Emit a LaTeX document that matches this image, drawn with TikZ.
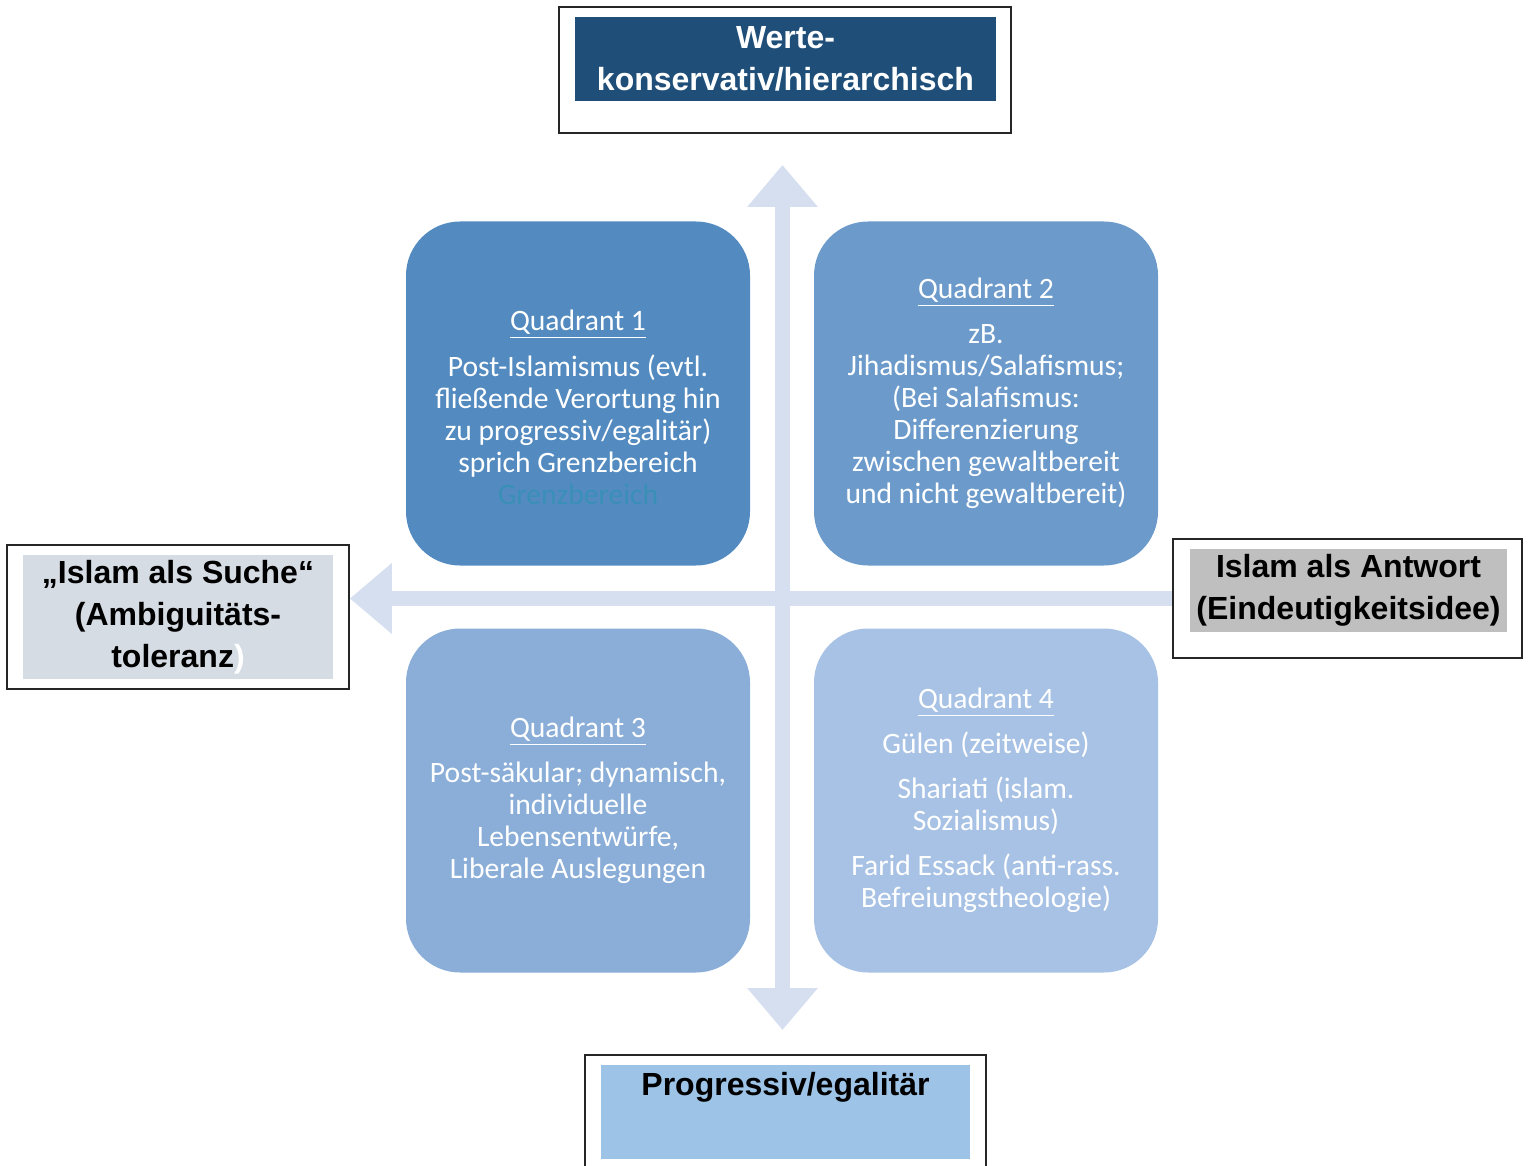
\documentclass[tikz,border=0pt]{standalone}
\usepackage{fontspec}
\setmainfont{Carlito}
\setsansfont{Liberation Sans}
\usetikzlibrary{arrows.meta}
\definecolor{topblue}{HTML}{1F4E79}
\definecolor{quadA}{HTML}{538BC0}
\definecolor{quadB}{HTML}{6C9BCB}
\definecolor{quadC}{HTML}{8AAED8}
\definecolor{quadD}{HTML}{A7C2E4}
\definecolor{axisblue}{HTML}{D5DFEF}
\definecolor{suchegray}{HTML}{D6DCE4}
\definecolor{antwortgray}{HTML}{BFBFBF}
\definecolor{progblue}{HTML}{9DC3E6}
\definecolor{faintteal}{HTML}{3A8FB7}
\begin{document}
\begin{tikzpicture}[x=0.5pt, y=-0.5pt]
\tikzstyle{quad}=[rectangle, rounded corners=27pt, minimum width=172pt, minimum height=172pt, inner sep=0pt]
\tikzstyle{quadtext}=[text=white, align=center, inner sep=0pt, font=\fontsize{14.8}{16}\selectfont]
\tikzstyle{frame}=[draw=black!85, line width=0.8pt, fill=white, inner sep=0pt]
\tikzstyle{tag}=[inner sep=0pt, align=center, font=\sffamily\bfseries\fontsize{16}{21}\selectfont]
\tikzstyle{axis}=[draw=axisblue, line width=7.5pt]
\useasboundingbox (0,0) rectangle (1530,1166);
\node[frame, minimum width=226pt, minimum height=63pt](werteframe) at (785,70) {};
\node[tag, fill=topblue, text=white, minimum width=210.5pt, minimum height=42pt](werte) at (785.5,59) {Werte-\\konservativ/hierarchisch};
\node[frame, minimum width=171pt, minimum height=72pt](sucheframe) at (178,617) {};
\node[tag, fill=suchegray, minimum width=155pt, minimum height=62pt](suche) at (178,617) {„Islam als Suche“\\(Ambiguitäts-\\toleranz\textcolor{white}{)}};
\node[frame, minimum width=174.5pt, minimum height=59.5pt](antwortframe) at (1347.5,598.5) {};
\node[tag, fill=antwortgray, minimum width=158.5pt, minimum height=41.5pt](antwort) at (1348.5,590.5) {Islam als Antwort\\(Eindeutigkeitsidee)};
\node[frame, minimum width=200.5pt, minimum height=60pt](progframe) at (785.5,1115) {};
\node[fill=progblue, minimum width=184.5pt, minimum height=47pt](prog) at (785.5,1112) {};
\node[tag](progtext) at (785.5,1087) {Progressiv/egalitär};
\coordinate (vtop) at (782.5,165);
\coordinate (vbot) at (782.5,1030);
\draw[axis, {Triangle[width=34pt, length=21pt]}-{Triangle[width=34pt, length=21pt]}] (vtop) -- (vbot);
\draw[axis, -{Triangle[width=34pt, length=21pt]}] (antwortframe.west) -- (sucheframe.east |- antwortframe.west);
\node[quad, fill=quadA](q1) at (578,393.5) {};
\node[quad, fill=quadB](q2) at (986,393.5) {};
\node[quad, fill=quadC](q3) at (578,800.5) {};
\node[quad, fill=quadD](q4) at (986,800.5) {};
\node[quadtext, yshift=-7pt](t1) at (q1.center) {\underline{Quadrant 1}\\[7pt]Post-Islamismus (evtl.\\fließende Verortung hin\\zu progressiv/egalitär)\\sprich Grenzbereich\\\textcolor{faintteal}{Grenzbereich}};
\node[quadtext](t2) at (q2.center) {\underline{Quadrant 2}\\[6.5pt]zB.\\Jihadismus/Salafismus;\\(Bei Salafismus:\\Differenzierung\\zwischen gewaltbereit\\und nicht gewaltbereit)};
\node[quadtext](t3) at (q3.center) {\underline{Quadrant 3}\\[6.5pt]Post-säkular; dynamisch,\\individuelle\\Lebensentwürfe,\\Liberale Auslegungen};
\node[quadtext](t4) at (q4.center) {\underline{Quadrant 4}\\[6.5pt]Gülen (zeitweise)\\[6.5pt]Shariati (islam.\\Sozialismus)\\[6.5pt]Farid Essack (anti-rass.\\Befreiungstheologie)};
\end{tikzpicture}
\end{document}
